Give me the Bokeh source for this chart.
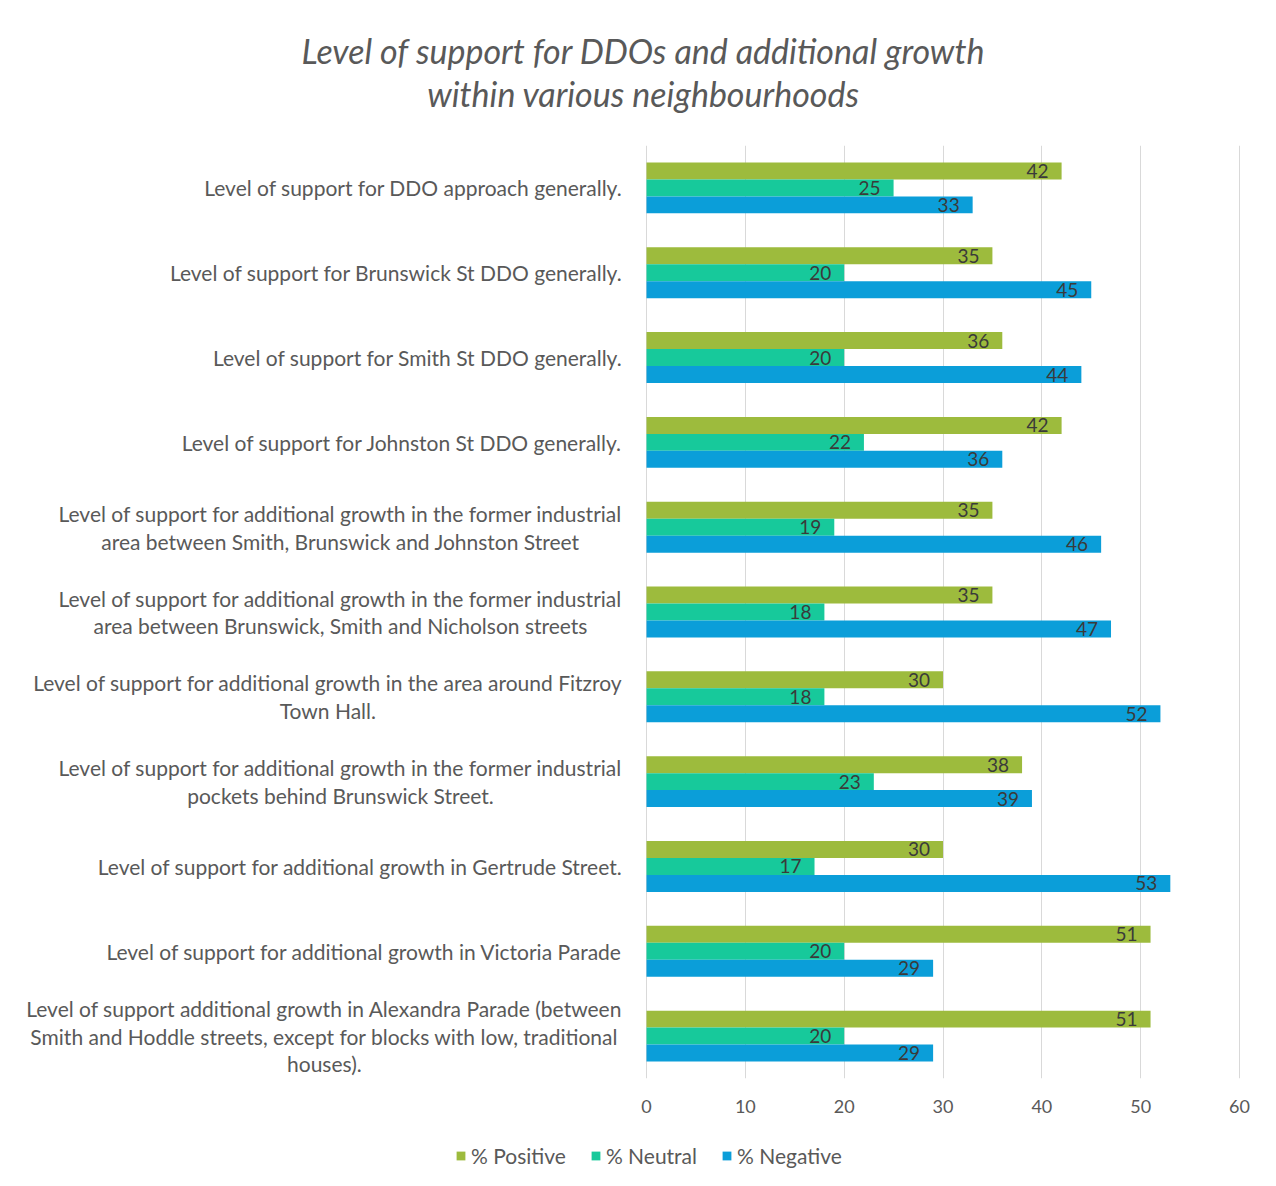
from bokeh.plotting import figure
from bokeh.layouts import column
from bokeh.models import (ColumnDataSource, FactorRange, Range1d, Legend, LegendItem,
                          FixedTicker, Label)
from bokeh.core.properties import value
from bokeh.transform import dodge
from bokeh.embed import file_html
from bokeh.resources import INLINE

title_lines = ["Level of support for DDOs and additional growth",
               "within various neighbourhoods"]
categories = [
    "Level of support for DDO approach generally.",
    "Level of support for Brunswick St DDO generally.",
    "Level of support for Smith St DDO generally.",
    "Level of support for Johnston St DDO generally.",
    "Level of support for additional growth in the former industrial\narea between Smith, Brunswick and Johnston Street",
    "Level of support for additional growth in the former industrial\narea between Brunswick, Smith and Nicholson streets",
    "Level of support for additional growth in the area around Fitzroy\nTown Hall.",
    "Level of support for additional growth in the former industrial\npockets behind Brunswick Street.",
    "Level of support for additional growth in Gertrude Street.",
    "Level of support for additional growth in Victoria Parade",
    "Level of support additional growth in Alexandra Parade (between\nSmith and Hoddle streets, except for blocks with low, traditional\nhouses).",
]
positive = [42, 35, 36, 42, 35, 35, 30, 38, 30, 51, 51]
neutral = [25, 20, 20, 22, 19, 18, 18, 23, 17, 20, 20]
negative = [33, 45, 44, 36, 46, 47, 52, 39, 53, 29, 29]
series_names = ["% Positive", "% Neutral", "% Negative"]
x_ticks = [0, 10, 20, 30, 40, 50, 60]

colors = ["#9dbb3d", "#17c99b", "#0b9ed9"]
FONT = "Lato"
GREY = "#595959"

W = 1276
TOP_H, MAIN_H, LEG_H = 145, 981, 60
LEFT_PX, RIGHT_PX = 646, 1239          # screen position of x = 0 and x = 60
XMIN, XMAX = 0, 60
ppu = (RIGHT_PX - LEFT_PX) / (XMAX - XMIN)

src = ColumnDataSource(dict(cat=categories, pos=positive, neu=neutral, neg=negative,
                            zero=[0] * len(categories),
                            pos_t=[str(v) for v in positive],
                            neu_t=[str(v) for v in neutral],
                            neg_t=[str(v) for v in negative]))

# ---- title strip ----
tf = figure(width=W, height=TOP_H, output_backend="svg", toolbar_location=None,
            min_border=0, x_range=Range1d(0, 1), y_range=Range1d(0, 1))
tf.title = None
tf.axis.visible = False
tf.grid.visible = False
tf.outline_line_color = None
for line, y_px in zip(title_lines, [TOP_H - 50, TOP_H - 93]):
    tf.add_layout(Label(x=643, y=y_px, x_units="screen", y_units="screen", text=line,
                        text_align="center", text_baseline="middle", text_font=FONT,
                        text_font_style="italic", text_font_size="34px", text_color=GREY))

# ---- main chart ----
p = figure(width=W, height=MAIN_H, output_backend="svg", toolbar_location=None,
           y_range=FactorRange(factors=list(reversed(categories)), range_padding=0),
           x_range=Range1d(XMIN - LEFT_PX / ppu, XMAX + (W - RIGHT_PX) / ppu),
           min_border_left=0, min_border_right=0,
           min_border_top=0, min_border_bottom=48)
p.title = None
p.outline_line_color = None
p.yaxis.visible = False
p.ygrid.grid_line_color = None
p.xgrid.grid_line_color = "#d9d9d9"
p.xgrid.grid_line_width = 1
p.xaxis.ticker = FixedTicker(ticks=x_ticks)
p.xaxis.axis_line_color = None
p.xaxis.major_tick_line_color = None
p.xaxis.minor_tick_line_color = None
p.xaxis.major_label_text_font = FONT
p.xaxis.major_label_text_font_size = "18px"
p.xaxis.major_label_text_color = GREY
p.xaxis.major_label_standoff = 15

offsets = [0.2, 0.0, -0.2]
fields = ["pos", "neu", "neg"]
for f, off, c in zip(fields, offsets, colors):
    p.hbar(y=dodge("cat", off, range=p.y_range), right=f, left=0, height=0.2,
           source=src, fill_color=c, line_color=None)
    p.text(x=f, y=dodge("cat", off, range=p.y_range), text=f + "_t", source=src,
           x_offset=-13, text_align="right", text_baseline="middle",
           text_font=value(FONT), text_font_size="19px", text_color="#3a3a3a")

# category labels, right-anchored left of the x = 0 baseline, lines centred
p.text(x="zero", y="cat", text="cat", source=src, x_offset=-24,
       anchor=value("center_right"), text_align="center", text_baseline="middle",
       text_font=value(FONT), text_font_size="21px", text_color=GREY,
       text_line_height=1.11)

# ---- legend strip: same bars, drawn outside its visible ranges ----
lf = figure(width=W, height=LEG_H, output_backend="svg", toolbar_location=None,
            min_border=0, x_range=Range1d(-3, -2), y_range=Range1d(-3, -2))
lf.title = None
lf.axis.visible = False
lf.grid.visible = False
lf.outline_line_color = None
leg_r = [lf.hbar(y="zero", left="zero", right=f, height=0.2, source=src,
                 fill_color=c, line_color=None) for f, c in zip(fields, colors)]
legend = Legend(items=[LegendItem(label=nm, renderers=[r]) for nm, r in zip(series_names, leg_r)],
                orientation="horizontal", location=(455, 18),
                label_text_font=FONT, label_text_font_size="21px", label_text_color=GREY,
                glyph_width=11, glyph_height=11, label_standoff=5, spacing=24,
                background_fill_alpha=0, border_line_color=None, padding=0, margin=0)
lf.add_layout(legend, "center")

layout = column(tf, p, lf, spacing=0)
open("out.html", "w").write(file_html(layout, INLINE))
